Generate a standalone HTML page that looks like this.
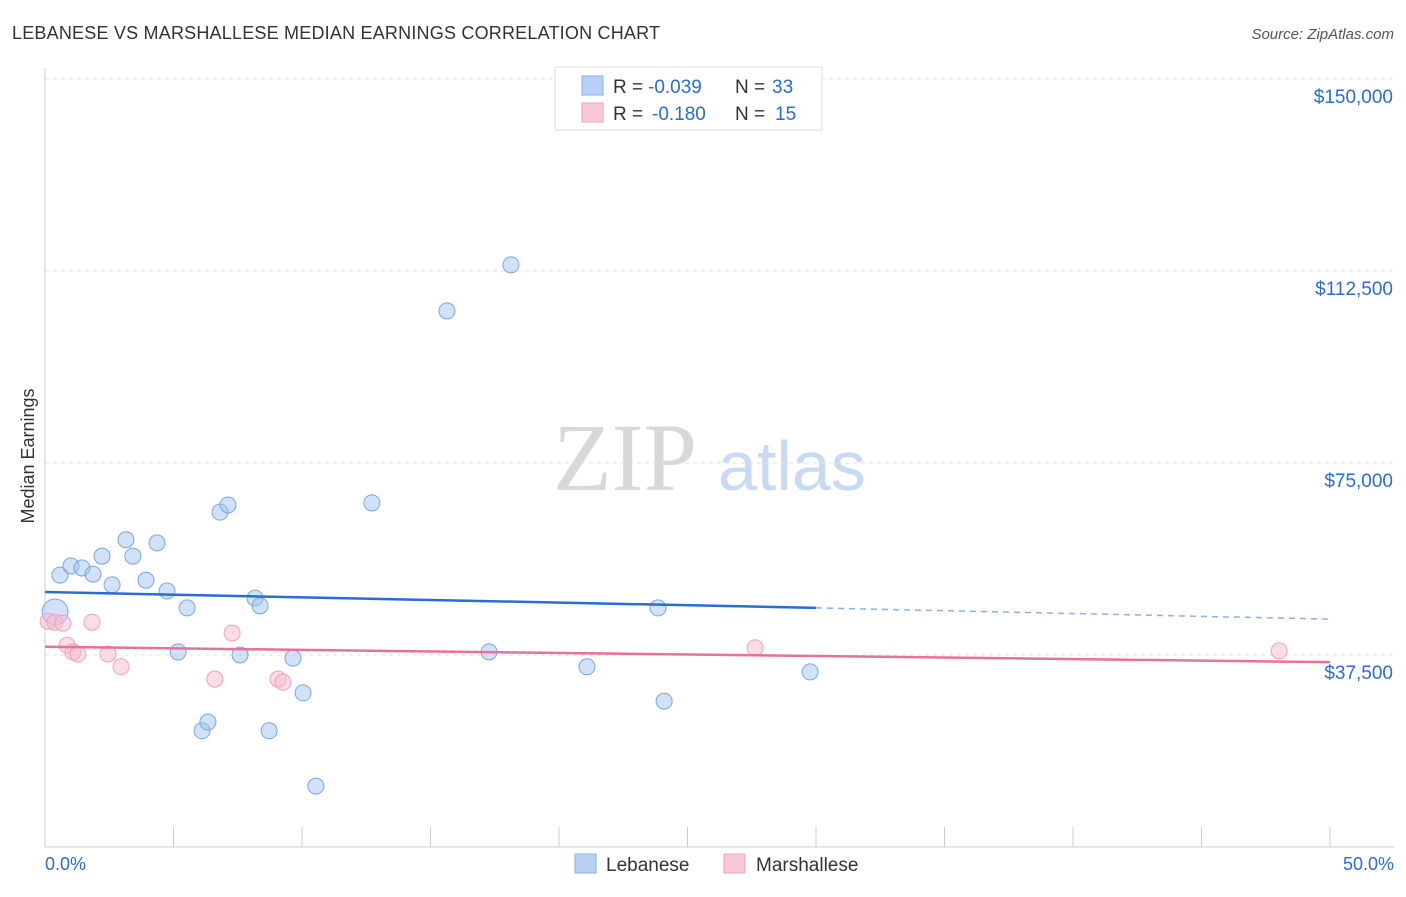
<!DOCTYPE html>
<html><head><meta charset="utf-8"><style>
body{margin:0;background:#fff;font-family:"Liberation Sans",sans-serif}
</style></head><body>
<svg id="c" width="1406" height="892" xmlns="http://www.w3.org/2000/svg" font-family="Liberation Sans, sans-serif">
<text x="12" y="39" font-size="18" fill="#333" textLength="648">LEBANESE VS MARSHALLESE MEDIAN EARNINGS CORRELATION CHART</text>
<text x="1394" y="39" font-size="15" fill="#555" text-anchor="end" font-style="italic">Source: ZipAtlas.com</text>
<text x="34" y="456" font-size="18" fill="#333" text-anchor="middle" transform="rotate(-90 34 456)">Median Earnings</text>
<text x="553" y="490" font-size="96" fill="#d8d8d8" font-family="Liberation Serif, serif">ZIP</text>
<text x="718" y="490" font-size="70" fill="#c8daf2">atlas</text>
<g id="grid"></g><g id="marks"></g>
<g>
<rect x="555" y="67" width="267" height="63" fill="#fff" stroke="#ddd"/>
<rect x="582" y="76" width="21" height="19" fill="#b8d0f4" stroke="#8ab0e6"/>
<rect x="582" y="103" width="21" height="19" fill="#f9c8d8" stroke="#f0a0bc"/>
<text x="613" y="93" font-size="19" fill="#333">R =</text>
<text x="648" y="93" font-size="19" fill="#2a6bd6">-0.039</text>
<text x="735" y="93" font-size="19" fill="#333">N =</text>
<text x="772" y="93" font-size="19" fill="#2a6bd6">33</text>
<text x="613" y="120" font-size="19" fill="#333">R =</text>
<text x="652" y="120" font-size="19" fill="#2a6bd6">-0.180</text>
<text x="735" y="120" font-size="19" fill="#333">N =</text>
<text x="775" y="120" font-size="19" fill="#2a6bd6">15</text>
</g>
<g>
<rect x="575" y="854" width="21" height="19" fill="#b8d0f4" stroke="#8ab0e6"/>
<text x="606" y="871" font-size="19" fill="#333">Lebanese</text>
<rect x="724" y="854" width="21" height="19" fill="#f9c8d8" stroke="#f0a0bc"/>
<text x="756" y="871" font-size="19" fill="#333">Marshallese</text>
</g>
<text x="45" y="870" font-size="18" fill="#2a6bd6">0.0%</text>
<text x="1394" y="870" font-size="18" fill="#2a6bd6" text-anchor="end">50.0%</text>
</svg>
<script>
const yTicks=[37500,75000,112500,150000];
const yTickLabels=["$37,500","$75,000","$112,500","$150,000"];
const xTicks=[0,5,10,15,20,25,30,35,40,45,50];
const lebX=[0.39,0.58,1.01,1.44,1.87,2.22,2.61,3.15,3.42,3.93,4.36,4.75,5.18,5.53,6.11,6.34,6.81,7.12,7.59,8.17,8.37,8.72,9.65,10.04,10.54,12.72,15.64,17.28,18.13,21.09,23.85,24.09,29.77];
const lebY=[45900,53100,54900,54500,53300,56800,51200,60000,56800,52100,59400,50000,38100,46700,22700,24400,65400,66800,37500,48600,47100,22700,36900,30100,11900,67200,104700,38100,113700,35200,46700,28500,34200];
const marX=[0.12,0.39,0.70,0.86,1.09,1.28,1.83,2.45,2.96,6.61,7.28,9.07,9.26,27.63,48.02];
const marY=[44100,43900,43700,39400,38100,37700,43900,37700,35200,32800,41800,32800,32200,38900,38300];
const lebTrend=[49800,46700,44500]; // at 0%, 30%, 50%
const marTrend=[39100,36100]; // at 0%, 50%
const X=v=>45+v*25.7, Y=v=>847-v/37500*192;
const NS="http://www.w3.org/2000/svg";
const grid=document.getElementById('grid'), marks=document.getElementById('marks');
function mk(p,tag,a){const e=document.createElementNS(NS,tag);for(const k in a)e.setAttribute(k,a[k]);p.appendChild(e);return e;}
let ax=mk(grid,'line',{x1:45,y1:68,x2:45,y2:847,stroke:'#ccc'});

let bx=mk(grid,'line',{x1:45,y1:847,x2:1394,y2:847,stroke:'#ccc'});

yTicks.forEach((t,i)=>{
 let g=mk(grid,'line',{x1:45,x2:1394,y1:Y(t),y2:Y(t),stroke:'#e2e2e2','stroke-dasharray':'4 4'});
 
 let l=mk(grid,'text',{x:1393,y:Y(t)+24,'font-size':19,fill:'#2a6bd6','text-anchor':'end'});l.textContent=yTickLabels[i];
 
});
xTicks.forEach(t=>{let g=mk(grid,'line',{x1:X(t),x2:X(t),y1:827,y2:847,stroke:'#ccc'});
 });
lebX.forEach((x,i)=>{let c=mk(marks,'circle',{cx:X(x),cy:Y(lebY[i]),r:i==0?13:8,fill:'rgba(164,196,240,0.5)',stroke:'#7aa6e0','stroke-width':1});
 });
marX.forEach((x,i)=>{let c=mk(marks,'circle',{cx:X(x),cy:Y(marY[i]),r:8,fill:'rgba(248,188,208,0.5)',stroke:'#f0a0bc','stroke-width':1});
 });
let t1=mk(marks,'line',{x1:X(0),y1:Y(lebTrend[0]),x2:X(30),y2:Y(lebTrend[1]),stroke:'#2a6bd6','stroke-width':2.5});

let t2=mk(marks,'line',{x1:X(30),y1:Y(lebTrend[1]),x2:X(50),y2:Y(lebTrend[2]),stroke:'#8ab0e6','stroke-width':1.5,'stroke-dasharray':'6 5'});

let t3=mk(marks,'line',{x1:X(0),y1:Y(marTrend[0]),x2:X(50),y2:Y(marTrend[1]),stroke:'#e8709a','stroke-width':2.5});

</script>
</body></html>
